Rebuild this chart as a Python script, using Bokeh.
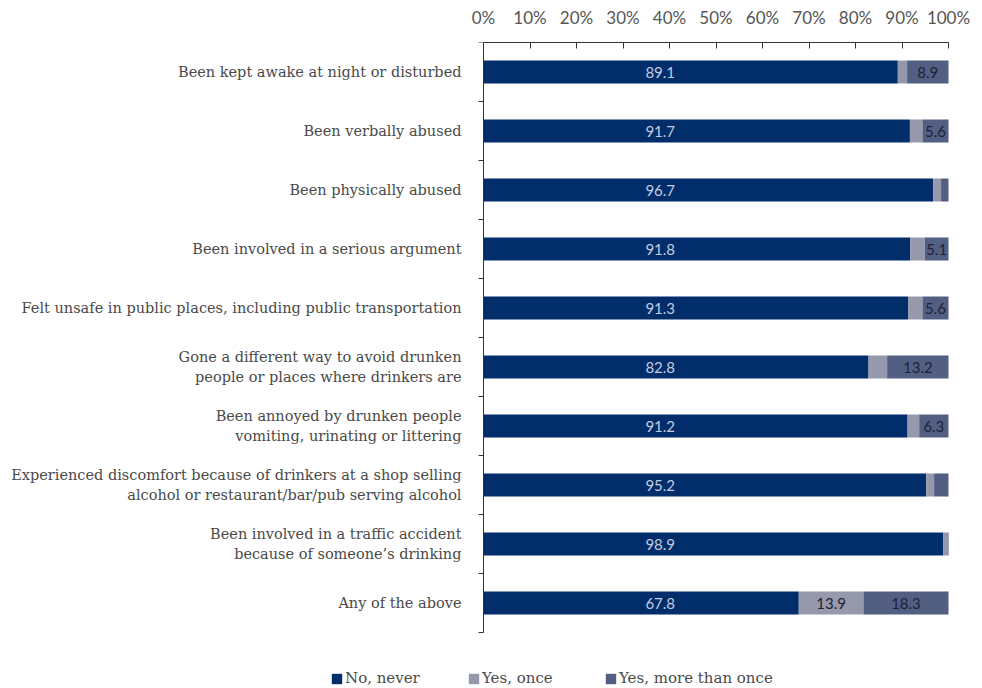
from bokeh.plotting import figure
from bokeh.models import (Range1d, FixedTicker, ColumnDataSource, Legend, LegendItem)
from bokeh.core.properties import value
from bokeh.embed import file_html
from bokeh.resources import INLINE

categories = [
    "Been kept awake at night or disturbed",
    "Been verbally abused",
    "Been physically abused",
    "Been involved in a serious argument",
    "Felt unsafe in public places, including public transportation",
    "Gone a different way to avoid drunken\npeople or places where drinkers are",
    "Been annoyed by drunken people\nvomiting, urinating or littering",
    "Experienced discomfort because of drinkers at a shop selling\nalcohol or restaurant/bar/pub serving alcohol",
    "Been involved in a traffic accident\nbecause of someone\u2019s drinking",
    "Any of the above",
]
no_never = [89.1, 91.7, 96.7, 91.8, 91.3, 82.8, 91.2, 95.2, 98.9, 67.8]
yes_once = [2.0, 2.7, 1.7, 3.1, 3.1, 4.0, 2.5, 1.7, 0.9, 13.9]
yes_more = [8.9, 5.6, 1.6, 5.1, 5.6, 13.2, 6.3, 3.1, 0.2, 18.3]
series_names = ["No, never", "Yes, once", "Yes, more than once"]
x_ticks = [0, 10, 20, 30, 40, 50, 60, 70, 80, 90, 100]

colors = ["#022d6b", "#9599ab", "#525f83"]
LABEL_FONT = "DejaVu Serif"
NUM_FONT = "Lato"
NO_LABEL_POS = 38  # label anchor for the first series (as in the reference)
MIN_LABEL = 5

n = len(categories)
ys = [i + 0.5 for i in range(n)]

# layout geometry (pixels): the frame covers the full width; the 0-100 % scale
# occupies pixels 483..948, the category rows occupy 42..632
W, H, TOP = 982, 688, 42
PX_LEFT, PX_RIGHT, PX_BOTTOM = 483, 948, 632
px_per_pct = (PX_RIGHT - PX_LEFT) / 100
px_per_row = (PX_BOTTOM - TOP) / n
x0 = -PX_LEFT / px_per_pct
x1 = x0 + W / px_per_pct
y_end = (H - TOP) / px_per_row

p = figure(width=W, height=H, output_backend="svg", toolbar_location=None,
           x_range=Range1d(x0, x1), y_range=Range1d(y_end, 0),
           x_axis_location="above", min_border_left=0, min_border_right=0,
           min_border_top=TOP, min_border_bottom=0)
p.outline_line_color = None
p.xgrid.visible = False
p.ygrid.visible = False
p.background_fill_color = "white"
p.border_fill_color = "white"

left1 = [0] * n
right1 = no_never
left2 = no_never
right2 = [a + b for a, b in zip(no_never, yes_once)]
left3 = right2
right3 = [a + b for a, b in zip(right2, yes_more)]

renderers = []
for l, r, c in [(left1, right1, colors[0]), (left2, right2, colors[1]), (left3, right3, colors[2])]:
    src = ColumnDataSource(dict(y=ys, left=l, right=r))
    renderers.append(p.hbar(y="y", left="left", right="right", height=0.39, source=src,
                            fill_color=c, line_color=None))

# value labels
lab_x, lab_y, lab_t, lab_c = [], [], [], []
for i in range(n):
    segs = [(no_never[i], NO_LABEL_POS, "#c3cbdf"),
            (yes_once[i], left2[i] + yes_once[i] / 2, "#1c2237"),
            (yes_more[i], left3[i] + yes_more[i] / 2, "#1c2237")]
    for v, x, col in segs:
        if v >= MIN_LABEL:
            lab_x.append(x)
            lab_y.append(ys[i])
            lab_t.append(f"{v:.1f}")
            lab_c.append(col)
lsrc = ColumnDataSource(dict(x=lab_x, y=lab_y, t=lab_t, c=lab_c))
p.text(x="x", y="y", text="t", source=lsrc, text_color="c", text_align="center",
       text_baseline="middle", text_font=value(NUM_FONT), text_font_size="15px")

# x axis (top)
xa = p.xaxis[0]
xa.ticker = FixedTicker(ticks=x_ticks)
xa.bounds = (0, 100)
xa.major_label_overrides = {t: f"{t}%" for t in x_ticks}
xa.minor_tick_line_color = None
xa.major_tick_in = 6
xa.major_tick_out = 0
xa.axis_line_color = "#333333"
xa.major_tick_line_color = "#333333"
xa.major_label_text_font = NUM_FONT
xa.major_label_text_font_size = "17px"
xa.major_label_text_color = "#555555"
xa.major_label_standoff = 15

# y axis (left), placed at 0 %
ya = p.yaxis[0]
ya.fixed_location = 0
ya.bounds = (0, n)
ya.ticker = FixedTicker(ticks=ys, minor_ticks=list(range(n + 1)))
ya.major_label_overrides = {y: c for y, c in zip(ys, categories)}
ya.major_tick_line_color = None
ya.major_tick_out = 0
ya.major_tick_in = 0
ya.minor_tick_out = 5
ya.minor_tick_in = 0
ya.minor_tick_line_color = "#333333"
ya.axis_line_color = "#333333"
ya.major_label_standoff = 17
ya.major_label_text_font = LABEL_FONT
ya.major_label_text_font_size = "14.5px"
ya.major_label_text_color = "#4a4a4a"

legend = Legend(items=[LegendItem(label=nm, renderers=[r]) for nm, r in zip(series_names, renderers)],
                orientation="horizontal", location=(330, 1),
                glyph_width=13, glyph_height=13, label_standoff=2, spacing=10,
                label_width=112, padding=0, margin=0,
                border_line_color=None, background_fill_alpha=0,
                label_text_font=LABEL_FONT, label_text_font_size="15px",
                label_text_color="#4a4a4a")
p.add_layout(legend, "center")

open("out.html", "w").write(file_html(p, INLINE))
